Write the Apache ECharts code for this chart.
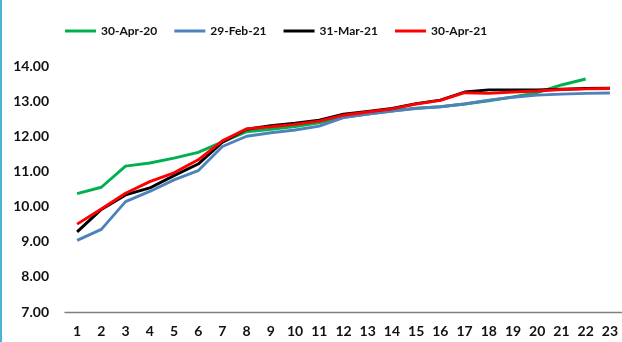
<!DOCTYPE html>
<html>
<head>
<meta charset="utf-8">
<script src="https://cdn.jsdelivr.net/npm/echarts@6/dist/echarts.min.js"></script>
<style>
html,body{margin:0;padding:0;background:#fff;}
#chart{width:622px;height:342px;}
</style>
</head>
<body>
<div id="chart"></div>
<script>
const categories = ['1','2','3','4','5','6','7','8','9','10','11','12','13','14','15','16','17','18','19','20','21','22','23'];
const seriesNames = ['30-Apr-20','29-Feb-21','31-Mar-21','30-Apr-21'];
const apr20 = [10.37,10.55,11.15,11.24,11.38,11.54,11.84,12.13,12.2,12.28,12.38,12.54,12.63,12.72,12.8,12.84,12.92,13.01,13.12,13.24,13.46,13.63,null];
const feb21 = [9.04,9.35,10.14,10.43,10.76,11.02,11.71,12.0,12.1,12.18,12.29,12.53,12.63,12.72,12.79,12.84,12.92,13.03,13.11,13.17,13.2,13.22,13.23];
const mar21 = [9.28,9.92,10.33,10.53,10.88,11.21,11.83,12.2,12.3,12.37,12.46,12.63,12.71,12.79,12.93,13.03,13.26,13.32,13.32,13.32,13.34,13.36,13.37];
const apr21 = [9.5,9.93,10.38,10.71,10.96,11.33,11.87,12.21,12.27,12.34,12.43,12.6,12.69,12.78,12.92,13.02,13.24,13.22,13.26,13.29,13.33,13.35,13.36];
const yTicks = {min:7, max:14, interval:1};
const colors = ['#00b050','#4f81bd','#000000','#ff0000'];

const chart = echarts.init(document.getElementById('chart'));
const font = 'Lato, "Open Sans", sans-serif';
chart.setOption({
  animation:false,
  color:colors,
  graphic:[{type:'rect',shape:{x:0,y:0,width:2,height:342},style:{fill:'#4bb4d6'}}],
  legend:{
    left:60, top:20, itemWidth:31, itemHeight:3, itemGap:17, icon:'rect',
    textStyle:{fontFamily:font, fontWeight:'bold', fontSize:12, color:'#111'},
    data:seriesNames
  },
  grid:{left:65, right:0, top:66, bottom:30, containLabel:false},
  xAxis:{
    type:'category', data:categories, boundaryGap:true,
    axisLine:{lineStyle:{color:'#7f7f7f', width:1.3}},
    axisTick:{show:false},
    axisLabel:{margin:12, fontFamily:font, fontWeight:'bold', fontSize:14, color:'#111'}
  },
  yAxis:{
    type:'value', min:yTicks.min, max:yTicks.max, interval:yTicks.interval,
    axisLine:{show:false}, axisTick:{show:false}, splitLine:{show:false},
    axisLabel:{margin:16, fontFamily:font, fontWeight:'bold', fontSize:14, color:'#111',
      formatter:v=>v.toFixed(2)}
  },
  series:[apr20,feb21,mar21,apr21].map((d,i)=>({
    name:seriesNames[i], type:'line', data:d, symbol:'none', smooth:false,
    lineStyle:{width:2.9, color:colors[i]}, z:2+i
  }))
});
</script>
</body>
</html>
